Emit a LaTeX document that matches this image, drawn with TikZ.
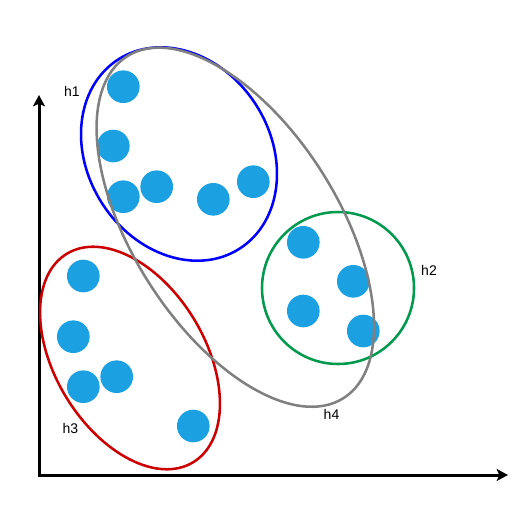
\documentclass[tikz,border=0pt]{standalone}
\usepackage{fontspec}
\setmainfont{Liberation Sans}
\usepackage{xcolor}
\usetikzlibrary{arrows.meta}

\definecolor{dotblue}{HTML}{1BA1E2}
\definecolor{hullblue}{HTML}{0000FF}
\definecolor{hullred}{HTML}{CC0000}
\definecolor{hullgreen}{HTML}{00994D}
\definecolor{hullgray}{HTML}{808080}

\begin{document}
\begin{tikzpicture}[
  x=0.75pt, y=-0.75pt,
  point/.style={circle, fill=dotblue, inner sep=0pt, minimum size=24.5pt},
  hull/.style={line width=1.9pt},
  axis/.style={line width=2.25pt, line join=miter, {Stealth[length=8.5pt, width=9pt, inset=2pt]}-{Stealth[length=8.5pt, width=9pt, inset=2pt]}},
  tag/.style={font=\fontsize{10.5}{12}\selectfont, inner sep=0pt}
]
  \useasboundingbox (0,0) rectangle (518,504);

  % axes
  \coordinate (origin) at (39,475);
  \coordinate (ytip) at (39,95);
  \coordinate (xtip) at (508,475);
  \draw[axis] (ytip) -- (origin) -- (xtip);

  % data points
  \node[point] (p1) at (123.3,86.7) {};
  \node[point] (p2) at (113.3,146) {};
  \node[point] (p3) at (123.3,196.7) {};
  \node[point] (p4) at (156.7,186.7) {};
  \node[point] (p5) at (213.3,199.3) {};
  \node[point] (p6) at (253.3,181.7) {};
  \node[point] (p7) at (303.3,242.3) {};
  \node[point] (p8) at (353.3,281.3) {};
  \node[point] (p9) at (303.3,311) {};
  \node[point] (p10) at (363.3,331) {};
  \node[point] (p11) at (83.3,276) {};
  \node[point] (p12) at (73.3,336.7) {};
  \node[point] (p13) at (83.3,386.7) {};
  \node[point] (p14) at (116.7,376.7) {};
  \node[point] (p15) at (193.3,426) {};

  % hypotheses
  \draw[hull, hullblue, rotate around={-57.3:(179,154)}] (179,154) ellipse [x radius=112.4, y radius=91.4];
  \draw[hull, hullred, rotate around={-58.8:(130,358)}] (130,358) ellipse [x radius=121.9, y radius=74.9];
  \draw[hull, hullgreen] (338,288) circle [radius=76];
  \draw[hull, hullgray, rotate around={-57.65:(235.3,227.2)}] (235.3,227.2) ellipse [x radius=202.3, y radius=102.7];

  \node[tag] (h1) at (72,91.5) {h1};
  \node[tag] (h2) at (429,270) {h2};
  \node[tag] (h3) at (70.5,428) {h3};
  \node[tag] (h4) at (331.5,414.5) {h4};
\end{tikzpicture}
\end{document}
